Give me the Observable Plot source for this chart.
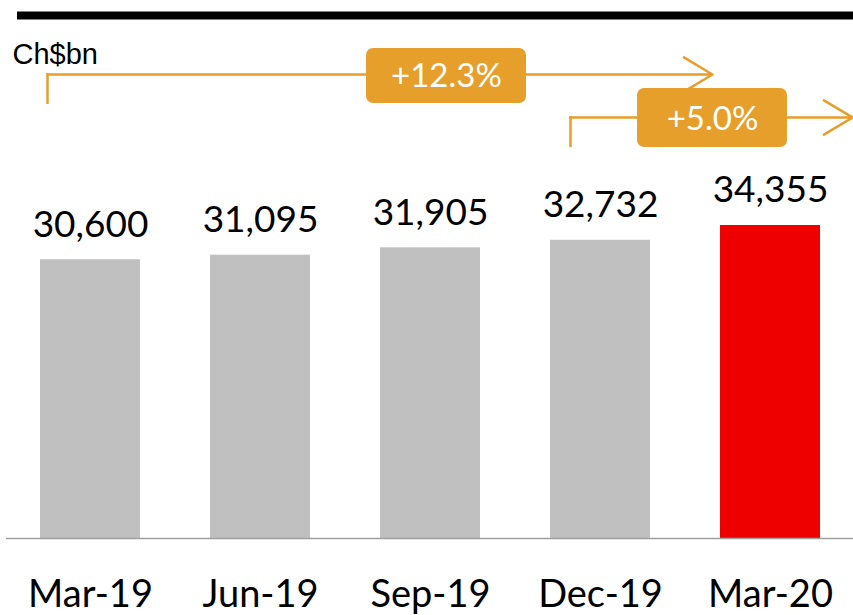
<!DOCTYPE html>
<html><head><meta charset="utf-8">
<script src="https://cdn.jsdelivr.net/npm/d3@7"></script>
<script src="https://cdn.jsdelivr.net/npm/@observablehq/plot@0.6"></script>
<style>body{margin:0;background:#fff}</style>
</head><body><div id="chart"></div>
<script>
// ---- data ----
const quarters = ["Mar-19", "Jun-19", "Sep-19", "Dec-19", "Mar-20"];
const deposits = [30600, 31095, 31905, 32732, 34355];
const highlight = "Mar-20";
const unitLabel = "Ch$bn";
const growthFrom = ["Mar-19", "Dec-19"];
const growthTo = ["Mar-20", "Mar-20"];
const growthLabels = ["+12.3%", "+5.0%"];

// ---- layout ----
const W = 853, H = 615, marginTop = 0, marginBottom = 77;
const base = H - marginBottom;
const yMax = 59050;
const yAt = px => (base - px) / (base - marginTop) * yMax; // pixel level -> y value
const orange = "#E69F2B", gray = "#C0C0C0", red = "#EE0000";
const num = d3.format(",");

const table = quarters.map((q, i) => ({quarter: q, value: deposits[i]}));
const growth = growthLabels.map((l, i) => ({from: growthFrom[i], to: growthTo[i], label: l}));

// annotation geometry (pixels)
const ann = [
  {level: 74, drop: 104, dx: -43, insetEnd: 15, boxAt: "Sep-19", boxL: -14, boxR: -46, boxTop: 48, boxBot: 103, labelAt: "Sep-19", labelDx: 16, labelY: 76},
  {level: 117, drop: 147, dx: -30, insetEnd: -112, boxAt: "Mar-20", boxL: -83, boxR: 33, boxTop: 88, boxBot: 147, labelAt: "Mar-20", labelDx: -58, labelY: 119}
];

const annMarks = growth.flatMap((g, i) => {
  const a = ann[i];
  return [
    Plot.ruleX([g], {x: "from", y1: yAt(a.level - 1), y2: yAt(a.drop), dx: a.dx, stroke: orange, strokeWidth: 2.5}),
    Plot.arrow([g], {x1: "from", x2: "to", y1: yAt(a.level), y2: yAt(a.level), dx: a.dx, insetEnd: a.insetEnd,
      stroke: orange, strokeWidth: 2.5, headLength: 20, headAngle: 62}),
    Plot.barY([g], {x: () => a.boxAt, y1: yAt(a.boxBot), y2: yAt(a.boxTop), insetLeft: a.boxL, insetRight: a.boxR,
      rx: 7, fill: orange}),
    Plot.text([g], {x: () => a.labelAt, y: yAt(a.labelY), dx: a.labelDx, text: "label", fill: "white",
      fontSize: 33, fontFamily: "Lato", lineAnchor: "middle"})
  ];
});

const chart = Plot.plot({
  width: W, height: H,
  marginTop, marginBottom, marginLeft: 6, marginRight: 0,
  x: {domain: quarters, paddingInner: 70 / 170, paddingOuter: 0.19, tickSize: 0, tickPadding: 42, label: null},
  y: {domain: [0, yMax], axis: null},
  style: {fontFamily: "Lato", fontSize: "38px", color: "black", background: "white", overflow: "visible"},
  marks: [
    Plot.ruleY([yAt(15)], {stroke: "black", strokeWidth: 8, insetLeft: 11}),
    Plot.text([unitLabel], {frameAnchor: "top-left", dx: 6, dy: 63, text: d => d, lineAnchor: "bottom",
      textAnchor: "start", fontFamily: "Liberation Sans", fontSize: 29, fill: "black"}),
    Plot.barY(table.filter(d => d.quarter !== highlight), {x: "quarter", y: "value", fill: gray}),
    Plot.barY(table.filter(d => d.quarter === highlight), {x: "quarter", y: "value", fill: red}),
    Plot.ruleY([0], {stroke: "#A0A0A0", strokeWidth: 1.5}),
    Plot.text(table, {x: "quarter", y: "value", text: d => num(d.value), dy: -23, lineAnchor: "bottom",
      fontSize: 37, fontFamily: "Lato", fill: "black"}),
    ...annMarks
  ]
});
document.getElementById("chart").appendChild(chart);
</script>
</body></html>
